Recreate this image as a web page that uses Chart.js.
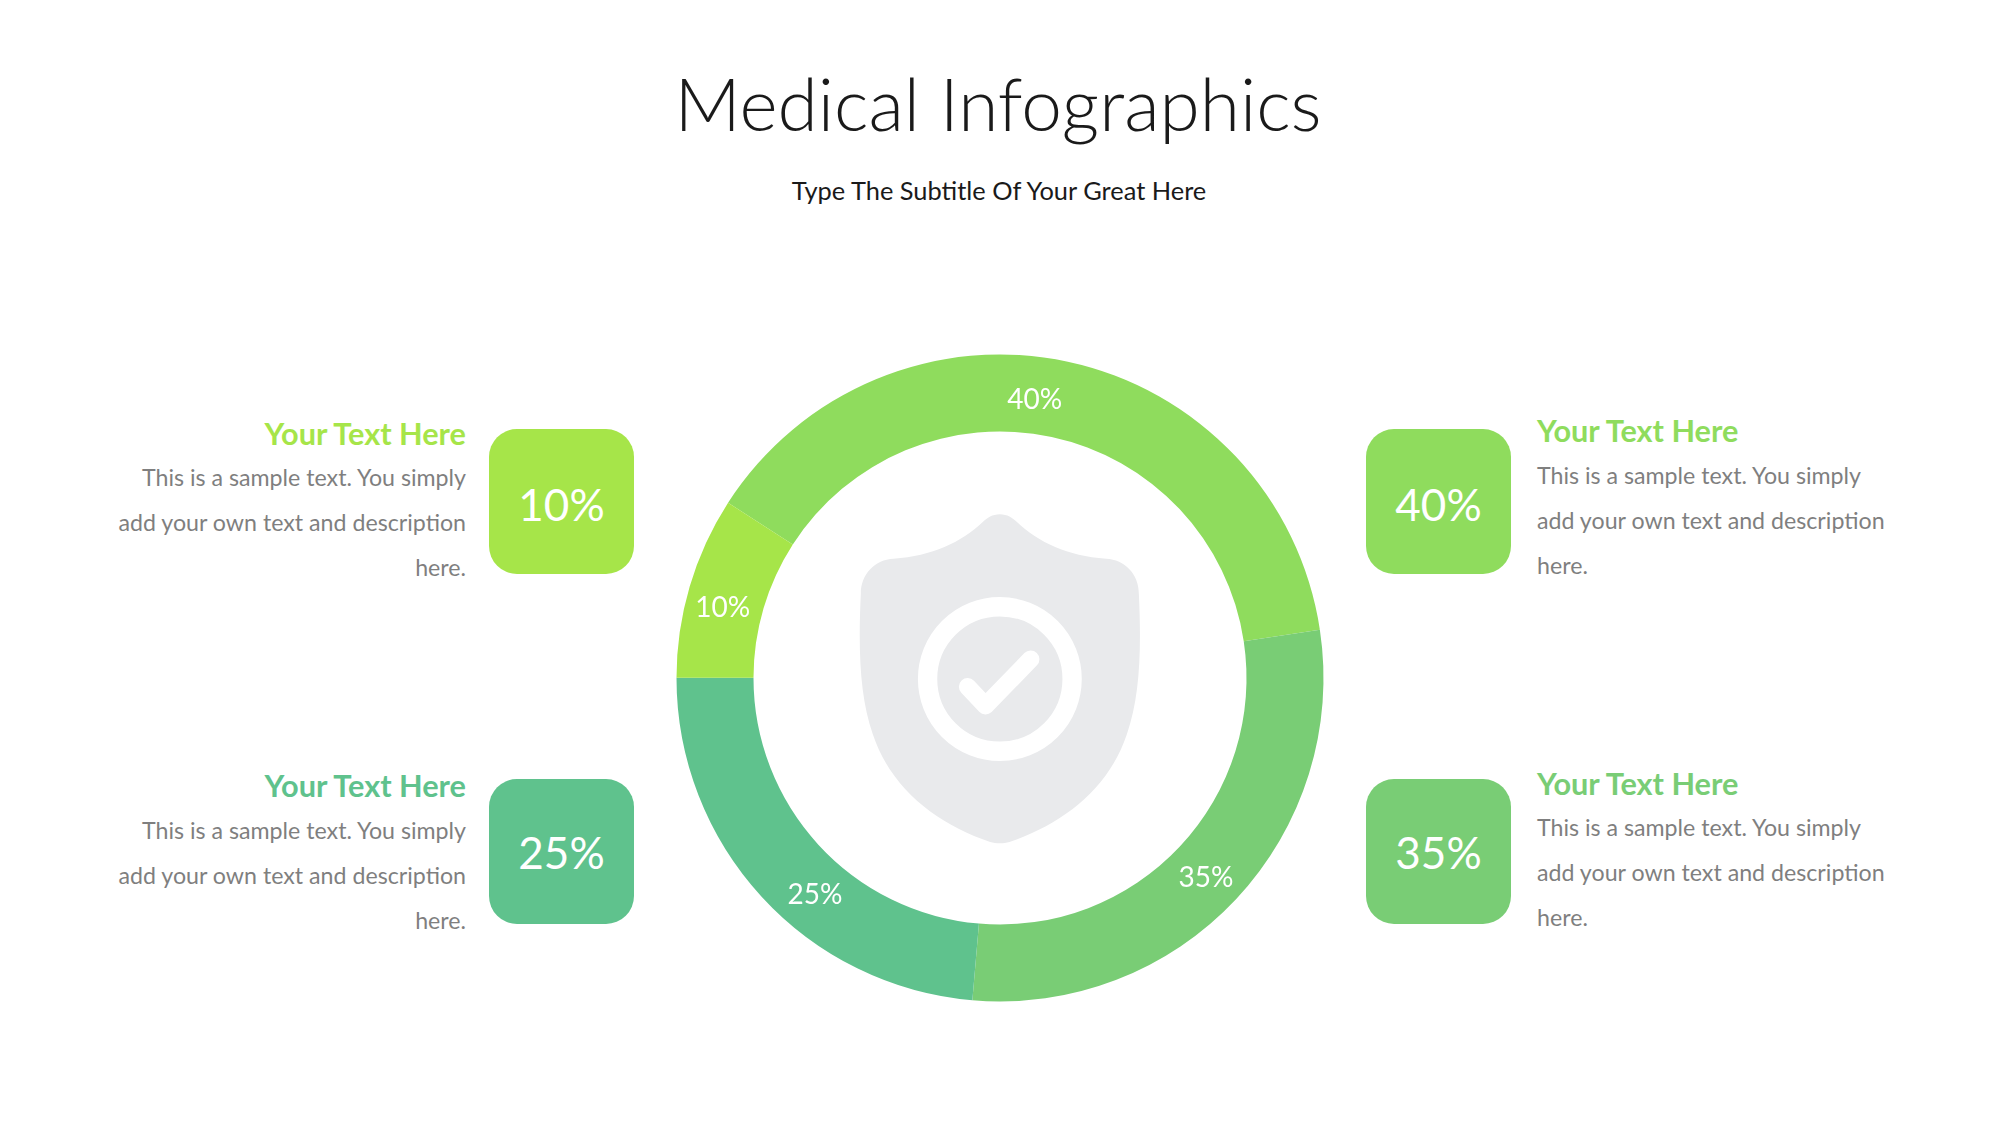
<!DOCTYPE html>
<html><head><meta charset="utf-8">
<script src="https://cdn.jsdelivr.net/npm/chart.js@4"></script>
<style>
html,body{margin:0;padding:0;background:#fff;width:2000px;height:1125px;overflow:hidden;font-family:Lato,sans-serif}
.abs{position:absolute;white-space:nowrap}
#title{left:0;width:1996px;top:58px;text-align:center;font-size:73px;font-weight:300;color:#1a1a1a;line-height:90px}
#sub{left:0;width:1998px;top:170px;text-align:center;font-size:25.4px;color:#1a1a1a;line-height:40px}
.card{position:absolute;width:145px;height:145px;border-radius:28px;color:#fff;font-size:44px;font-weight:400;display:flex;align-items:center;justify-content:center;box-sizing:border-box}
.head{position:absolute;font-size:30.7px;font-weight:700;white-space:nowrap;line-height:40px}
.body{position:absolute;font-size:23.2px;color:#7f7f7f;line-height:45.2px;white-space:pre}
.l{text-align:right}
canvas{position:absolute}
</style></head><body>
<div id="title" class="abs">Medical Infographics</div>
<div id="sub" class="abs">Type The Subtitle Of Your Great Here</div>
<svg class="abs" style="left:639px;top:320px" width="718" height="718" viewBox="0 0 1560 1560">
<path fill="#E9EAEC" d="M784 422C800 422 812 430 820 438C870 485 930 512 1015 519C1055 521 1086 552 1086 595C1092 720 1088 820 1060 900C1020 1020 920 1095 805 1134C792 1138 776 1138 763 1134C648 1095 548 1020 508 900C480 820 476 720 482 595C482 552 513 521 553 519C638 512 698 485 748 438C756 430 768 422 784 422Z"/>
<circle cx="784" cy="780" r="157" fill="none" stroke="#fff" stroke-width="42"/>
<polyline points="714,797 753,838 851,737" fill="none" stroke="#fff" stroke-width="38" stroke-linecap="round" stroke-linejoin="round"/>
</svg>
<canvas id="c" width="700" height="700" style="left:650px;top:328px;width:700px;height:700px"></canvas>
<div id="cards"></div>
<script>
const sliceLabels = ['40%','35%','25%','10%'];
const sliceValues = [38.5,28.75,23.65,9.1];
const sliceColors = ['#8FDC5D','#79CD75','#5FC28D','#A6E549'];
const labelShift = [[-25,1],[-2,5],[25,24],[-4,11]];
const cardText = ['10%','40%','25%','35%'];
const cardColors = ['#A6E549','#8FDC5D','#5FC28D','#79CD75'];
const cardHead = 'Your Text Here';
const cardBody = 'This is a sample text. You simply\nadd your own text and description\nhere.';

const host=document.getElementById('cards');
const rows=[
 {cx:489,cy:429,side:'l',hy:414,by:455,pad:5},
 {cx:1366,cy:429,side:'r',hy:411,by:453,pad:5},
 {cx:489,cy:779,side:'l',hy:766,by:808,pad:0},
 {cx:1366,cy:779,side:'r',hy:764,by:805,pad:0}];
rows.forEach((r,i)=>{
 const c=document.createElement('div');c.className='card';c.textContent=cardText[i];
 c.style.cssText=`left:${r.cx}px;top:${r.cy}px;background:${cardColors[i]};padding-top:${r.pad}px`;host.appendChild(c);
 const h=document.createElement('div');h.className='head';h.textContent=cardHead;h.style.color=cardColors[i];
 const b=document.createElement('div');b.className='body';b.textContent=cardBody;
 if(r.side==='l'){h.style.right=(2000-466)+'px';b.style.right=(2000-466)+'px';b.classList.add('l');}
 else{h.style.left='1537px';b.style.left='1537px';}
 h.style.top=r.hy+'px';b.style.top=r.by+'px';
 host.appendChild(h);host.appendChild(b);
});
const ringText={id:'ringText',afterDatasetsDraw(chart){
 const {ctx}=chart;ctx.save();
 ctx.fillStyle='#fff';ctx.font='400 28px Lato';ctx.textAlign='center';ctx.textBaseline='middle';
 chart.getDatasetMeta(0).data.forEach((a,i)=>{
  const p=a.tooltipPosition();
  ctx.fillText(sliceLabels[i],p.x+labelShift[i][0],p.y+labelShift[i][1]);
 });
 ctx.restore();
}};
new Chart(document.getElementById('c'),{
 type:'doughnut',
 data:{labels:sliceLabels,datasets:[{data:sliceValues,backgroundColor:sliceColors,borderWidth:0}]},
 options:{responsive:false,animation:false,rotation:302.8,cutout:'76.2%',radius:323.5,
  layout:{padding:0},plugins:{legend:{display:false},tooltip:{enabled:false}}},
 plugins:[ringText]
});
</script>
</body></html>
